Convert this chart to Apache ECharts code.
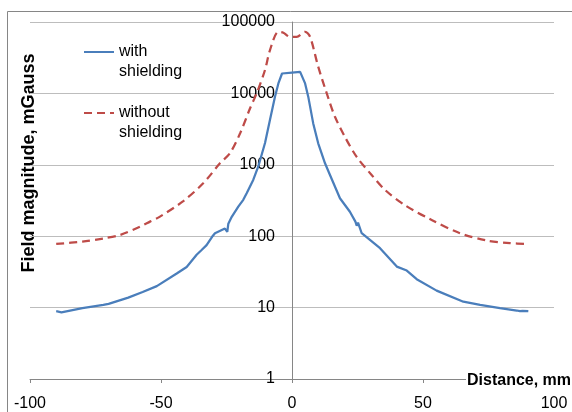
<!DOCTYPE html>
<html>
<head>
<meta charset="utf-8">
<script src="https://cdn.jsdelivr.net/npm/echarts@6/dist/echarts.min.js"></script>
<style>html,body{margin:0;padding:0;background:#fff;}#c{width:572px;height:412px;}</style>
</head>
<body>
<div id="c"></div>
<script>
const distWith = [-90, -88, -80, -72, -70, -62.5, -57, -51.6, -44, -40.2, -36.4, -34.5, -32.6, -30.5, -29.4, -25.6, -24.7, -24.3, -23, -20.5, -18.6, -17.3, -14.8, -12.9, -10.3, -8.4, -6.5, -5.2, -3.8, -3.3, 0, 3.1, 5.0, 6.2, 8.1, 10.0, 12.6, 14.5, 18.3, 22.1, 24.2, 24.7, 25.2, 26.6, 33.6, 40.0, 43.8, 47.6, 55.2, 65.4, 71.8, 79.4, 85.8, 87, 88, 90.2];
const fieldWith = [8.9, 8.6, 9.8, 10.9, 11.3, 13.8, 16.5, 20, 30, 37, 55, 64, 75, 98, 110, 128, 115, 150, 187, 259, 323, 400, 613, 940, 2020, 4260, 8950, 13800, 19000, 20000, 19600, 20000, 13800, 9000, 3800, 2000, 1050, 720, 340, 220, 160, 140, 155, 110, 68, 37.5, 33, 25, 17.3, 12.1, 10.9, 9.8, 9.1, 8.9, 9.0, 8.9];
const distWithout = [-90, -80, -72, -65.6, -58, -54.2, -50.4, -41.5, -33.9, -27.5, -23.7, -19.8, -16, -13.5, -10.3, -8.4, -5.2, -3.3, -0.8, 1.8, 5.0, 6.9, 10.0, 13.9, 16.4, 20.2, 24.7, 30.4, 35.5, 43.1, 53.3, 64.1, 74.3, 83.2, 89.6];
const fieldWithout = [78, 84, 93, 104, 136, 160, 188, 310, 550, 1050, 1450, 2760, 6200, 10000, 21300, 40500, 73000, 70800, 62000, 62000, 73000, 62000, 23700, 8500, 4700, 2460, 1290, 720, 445, 272, 169, 110, 87, 80, 78];
const seriesNames = ['with shielding', 'without shielding'];
const xAxisTitle = 'Distance, mm';
const yAxisTitle = 'Field magnitude, mGauss';

const pairs = (xs, ys) => xs.map((x, i) => [x, ys[i]]);
const FONT = 'Liberation Sans';
const GRID_LEFT = 30, GRID_RIGHT = 18, W = 572;
const X_MIN = -100, X_MAX = 100;
const chart = echarts.init(document.getElementById('c'), null, {renderer: 'canvas'});
// place the y axis at x = 0 of the x axis
const plotW = W - GRID_LEFT - GRID_RIGHT;
const yAxisOffset = -plotW * (0 - X_MIN) / (X_MAX - X_MIN);
const legendBase = {
  orient: 'vertical', left: 83, padding: 0,
  itemWidth: 30, itemHeight: 14, itemGap: 5,
  itemStyle: {opacity: 0},
  formatter: n => '\n' + n.replace(' ', '\n'),
  textStyle: {fontFamily: FONT, fontSize: 16, color: '#000', lineHeight: 20}
};
chart.setOption({
  animation: false,
  backgroundColor: '#fff',
  grid: {left: GRID_LEFT, right: GRID_RIGHT, top: 22, bottom: 33, containLabel: false},
  legend: [
    Object.assign({}, legendBase, {top: 22, data: [seriesNames[0]]}),
    Object.assign({}, legendBase, {top: 83, data: [seriesNames[1]]})
  ],
  xAxis: {
    type: 'value', min: X_MIN, max: X_MAX, interval: 50,
    axisLine: {onZero: false, lineStyle: {color: '#868686', width: 1}},
    axisTick: {show: true, length: 4, lineStyle: {color: '#868686'}},
    axisLabel: {fontFamily: FONT, fontSize: 16, color: '#000', margin: 17},
    splitLine: {show: false}
  },
  yAxis: {
    type: 'log', logBase: 10, min: 1, max: 100000,
    position: 'left', offset: yAxisOffset,
    axisLine: {show: true, onZero: false, lineStyle: {color: '#868686', width: 1}},
    axisTick: {show: false},
    axisLabel: {fontFamily: FONT, fontSize: 16, color: '#000', margin: 17,
      formatter: v => String(Math.round(v))},
    splitLine: {show: true, lineStyle: {color: '#BDBDBD', width: 1}}
  },
  graphic: [
    {type: 'rect', shape: {x: 7.5, y: 11.5, width: 700, height: 500}, style: {fill: 'none', stroke: '#868686', lineWidth: 1}, z: 0},
    {type: 'text', x: 29, y: 163, rotation: Math.PI / 2,
      style: {text: yAxisTitle, fontFamily: FONT, fontSize: 18, fontWeight: 'bold', fill: '#000', align: 'center', verticalAlign: 'middle'}},
    {type: 'text', x: 466, y: 381, z: 100,
      style: {text: xAxisTitle, fontFamily: FONT, fontSize: 16, fontWeight: 'bold', fill: '#000', align: 'left', verticalAlign: 'middle', backgroundColor: '#fff', padding: [0, 2, 0, 1]}}
  ],
  series: [
    {name: seriesNames[0], type: 'line', data: pairs(distWith, fieldWith), symbol: 'none',
      lineStyle: {color: '#4A7EBB', width: 2.25}, itemStyle: {color: '#4A7EBB'}, z: 3},
    {name: seriesNames[1], type: 'line', data: pairs(distWithout, fieldWithout), symbol: 'none', smooth: 0.3,
      lineStyle: {color: '#BE4B48', width: 2.25, type: [8, 5]}, itemStyle: {color: '#BE4B48'}, z: 2}
  ]
});
</script>
</body>
</html>
